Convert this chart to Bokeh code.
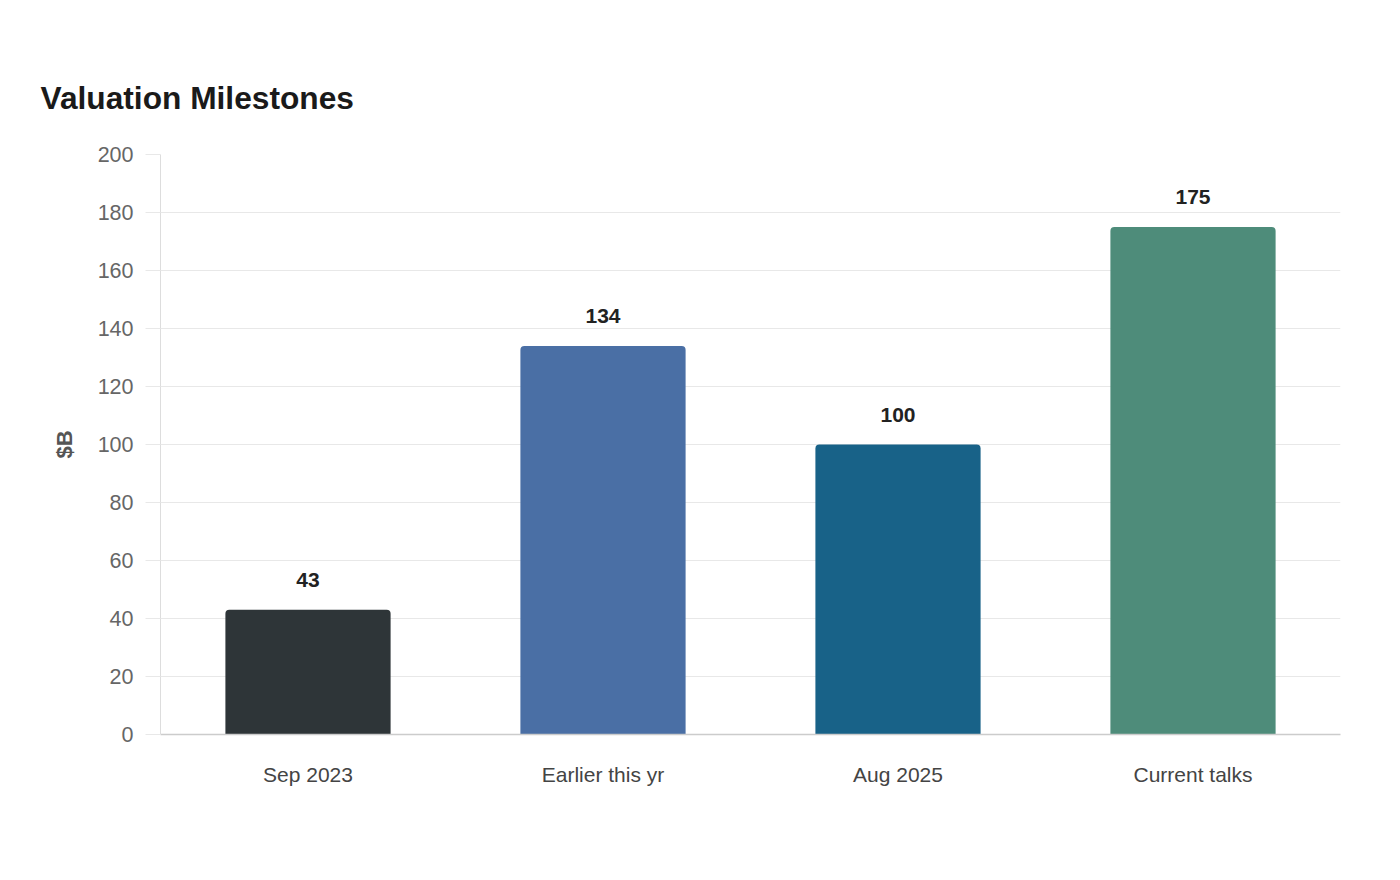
from bokeh.plotting import figure
from bokeh.models import ColumnDataSource, LabelSet, FixedTicker, Range1d
from bokeh.core.properties import value
from bokeh.embed import file_html
from bokeh.resources import INLINE

# Valuation milestones in billions of dollars
categories = ["Sep 2023", "Earlier this yr", "Aug 2025", "Current talks"]
valuations = [43, 134, 100, 175]
bar_colors = ["#2e3538", "#4a6fa5", "#186288", "#4e8c7a"]
y_ticks = [0, 20, 40, 60, 80, 100, 120, 140, 160, 180, 200]

FONT = "Liberation Sans"

source = ColumnDataSource(dict(
    cat=categories,
    val=valuations,
    color=bar_colors,
    label=[str(v) for v in valuations],
))

p = figure(
    x_range=categories,
    width=1400, height=880,
    output_backend="svg", toolbar_location=None,
    min_border_left=160, min_border_right=60,
    min_border_top=154, min_border_bottom=146,
    title="Valuation Milestones",
)
p.y_range = Range1d(0, 200)

p.vbar(x="cat", top="val", width=0.56, source=source,
       fill_color="color", line_color=None, border_radius=(4, 4, 0, 0))

labels = LabelSet(x="cat", y="val", text="label", source=source,
                  text_align="center", text_baseline="middle", y_offset=30,
                  text_font=value(FONT), text_font_size=value("21px"),
                  text_font_style=value("bold"), text_color=value("#222222"))
p.add_layout(labels)

# Title
p.title.text_font = FONT
p.title.text_font_size = "31.7px"
p.title.text_font_style = "bold"
p.title.text_color = "#1a1a1a"
p.title.align = "left"
p.title.offset = -120
p.title.standoff = 78

p.outline_line_color = None
p.background_fill_color = "white"
p.border_fill_color = "white"

# Grid
p.xgrid.grid_line_color = None
p.ygrid.grid_line_color = "#e8e8e8"
p.ygrid.grid_line_width = 1

# Y axis
p.yaxis.ticker = FixedTicker(ticks=y_ticks)
p.yaxis.axis_label = "$B"
p.yaxis.axis_label_text_font = FONT
p.yaxis.axis_label_text_font_size = "22px"
p.yaxis.axis_label_text_font_style = "bold"
p.yaxis.axis_label_text_color = "#555555"
p.yaxis.axis_label_standoff = 18
p.yaxis.major_label_text_font = FONT
p.yaxis.major_label_text_font_size = "21.5px"
p.yaxis.major_label_text_color = "#666666"
p.yaxis.major_label_standoff = 12
p.yaxis.axis_line_color = "#dddddd"
p.yaxis.major_tick_line_color = "#e8e8e8"
p.yaxis.major_tick_out = 15
p.yaxis.major_tick_in = 0
p.yaxis.minor_tick_line_color = None

# X axis
p.xaxis.axis_line_color = "#cccccc"
p.xaxis.axis_line_width = 1.5
p.xaxis.major_tick_line_color = None
p.xaxis.minor_tick_line_color = None
p.xaxis.major_label_text_font = FONT
p.xaxis.major_label_text_font_size = "21px"
p.xaxis.major_label_text_color = "#444444"
p.xaxis.major_label_standoff = 22
p.x_range.range_padding = 0

open("out.html", "w").write(file_html(p, INLINE))
